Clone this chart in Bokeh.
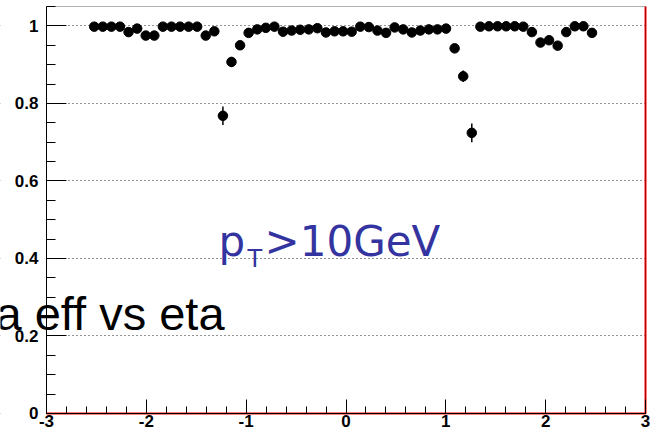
from bokeh.plotting import figure
from bokeh.models import (Range1d, SingleIntervalTicker, NumeralTickFormatter,
                          Label, ColumnDataSource, BoxAnnotation)
from bokeh.embed import file_html
from bokeh.resources import INLINE

# --- data ---
eta = [-2.522, -2.436, -2.350, -2.264, -2.178, -2.092, -2.006, -1.920, -1.834, -1.748,
       -1.662, -1.577, -1.491, -1.405, -1.319, -1.233, -1.147, -1.061, -0.975, -0.889,
       -0.803, -0.717, -0.631, -0.545, -0.459, -0.373, -0.287, -0.201, -0.115, -0.029,
       0.057, 0.143, 0.229, 0.315, 0.401, 0.487, 0.573, 0.659, 0.745, 0.830,
       0.916, 1.002, 1.088, 1.174, 1.260, 1.346, 1.432, 1.518, 1.604, 1.690,
       1.776, 1.862, 1.948, 2.034, 2.120, 2.206, 2.292, 2.378, 2.464]
eff = [0.998, 0.998, 0.998, 0.998, 0.984, 0.993, 0.975, 0.975, 0.998, 0.998,
       0.998, 0.998, 0.998, 0.975, 0.986, 0.768, 0.907, 0.950, 0.982, 0.991,
       0.995, 0.998, 0.985, 0.988, 0.990, 0.991, 0.994, 0.983, 0.986, 0.986,
       0.985, 0.998, 0.997, 0.988, 0.982, 0.996, 0.991, 0.983, 0.988, 0.991,
       0.991, 0.993, 0.942, 0.870, 0.724, 0.998, 0.999, 0.999, 0.999, 0.999,
       0.998, 0.984, 0.957, 0.963, 0.949, 0.984, 0.999, 0.999, 0.982]
err = [0.003, 0.003, 0.003, 0.003, 0.004, 0.004, 0.005, 0.005, 0.003, 0.003,
       0.003, 0.003, 0.003, 0.005, 0.005, 0.024, 0.013, 0.008, 0.004, 0.004,
       0.003, 0.003, 0.004, 0.004, 0.004, 0.004, 0.004, 0.004, 0.004, 0.004,
       0.004, 0.003, 0.003, 0.004, 0.004, 0.003, 0.004, 0.004, 0.004, 0.004,
       0.004, 0.004, 0.010, 0.015, 0.024, 0.003, 0.003, 0.003, 0.003, 0.003,
       0.003, 0.004, 0.007, 0.007, 0.008, 0.004, 0.003, 0.003, 0.004]
half_bin = 0.043

x_lo, x_hi = -3, 3
y_lo, y_hi = 0, 1.05

title_text = "a eff vs eta"
cut_main = "p"
cut_sub = "T"
cut_rest = ">10GeV"

src = ColumnDataSource(dict(
    eta=eta, eff=eff,
    lo=[v - e for v, e in zip(eff, err)],
    hi=[v + e for v, e in zip(eff, err)],
    xl=[x - half_bin for x in eta],
    xr=[x + half_bin for x in eta],
))

# the frame fills the whole canvas; axes are drawn at fixed locations inside it
p = figure(width=653, height=431, output_backend="svg", toolbar_location=None,
           x_range=Range1d(-3.4608, 3.0801), y_range=Range1d(-0.04644, 1.0655),
           min_border_left=0, min_border_right=0, min_border_top=0,
           min_border_bottom=0)
p.background_fill_color = "white"
p.border_fill_color = "white"
p.outline_line_color = None

p.xgrid.visible = False
p.ygrid.grid_line_color = "black"
p.ygrid.grid_line_dash = "1 3"
p.ygrid.grid_line_width = 1
p.ygrid.grid_line_alpha = 0.85

p.xaxis.ticker = SingleIntervalTicker(interval=1, num_minor_ticks=5)
p.yaxis.ticker = SingleIntervalTicker(interval=0.2, num_minor_ticks=4)
p.ygrid.ticker = SingleIntervalTicker(interval=0.2, num_minor_ticks=4)
p.xaxis.formatter = NumeralTickFormatter(format="0")
p.yaxis.formatter = NumeralTickFormatter(format="0.[0]")
p.xaxis.bounds = (x_lo, x_hi)
p.yaxis.bounds = (y_lo, y_hi)
p.xaxis.fixed_location = y_lo
p.yaxis.fixed_location = x_lo

for ax in (p.xaxis[0], p.yaxis[0]):
    ax.axis_line_color = "black"
    ax.major_tick_line_color = "black"
    ax.minor_tick_line_color = "black"
    ax.major_tick_out = 0
    ax.minor_tick_out = 0
    ax.major_label_text_font = "Liberation Sans"
    ax.major_label_text_font_style = "bold"
    ax.major_label_text_font_size = "17px"
    ax.major_label_text_color = "black"

p.yaxis.major_tick_in = 20
p.yaxis.minor_tick_in = 9
p.yaxis.major_label_standoff = 8
p.xaxis.major_tick_in = 14
p.xaxis.minor_tick_in = 7
p.xaxis.major_label_standoff = 2

# white covers outside the data area so the dotted grid stays inside it
p.add_layout(BoxAnnotation(right=x_lo, fill_color="white", fill_alpha=1.0,
                           line_color=None, level="underlay"))
p.add_layout(BoxAnnotation(left=x_hi, fill_color="white", fill_alpha=1.0,
                           line_color=None, level="underlay"))
p.add_layout(BoxAnnotation(top=y_lo, fill_color="white", fill_alpha=1.0,
                           line_color=None, level="underlay"))
# frame border around the data area
p.add_layout(BoxAnnotation(left=x_lo, right=x_hi, bottom=y_lo, top=y_hi,
                           fill_alpha=0, line_color="black", line_width=1))

p.segment(x0="eta", y0="lo", x1="eta", y1="hi", source=src, line_color="black", line_width=1.5)
p.segment(x0="xl", y0="eff", x1="xr", y1="eff", source=src, line_color="black", line_width=1)
p.scatter(x="eta", y="eff", source=src, marker="circle", size=9.5,
          fill_color="black", line_color="black")

# red histogram outline along the bottom and the right edge
p.line(x=[x_lo, x_hi, x_hi], y=[y_lo, y_lo, y_hi], line_color="red", line_width=2)

p.add_layout(Label(x=-3.511, y=0.258, text=title_text, text_font="Liberation Sans",
                   text_font_size="47px", text_color="black",
                   text_baseline="middle", text_align="left"))
blue = "#3434a0"
p.add_layout(Label(x=-1.277, y=0.444, text=cut_main, text_font="DejaVu Sans",
                   text_font_size="42px", text_color=blue,
                   text_baseline="middle", text_align="left"))
p.add_layout(Label(x=-1.277, y=0.444, x_offset=29, y_offset=-18, text=cut_sub,
                   text_font="DejaVu Sans", text_font_size="24px", text_color=blue,
                   text_baseline="middle", text_align="left"))
p.add_layout(Label(x=-1.277, y=0.444, x_offset=46, text=cut_rest,
                   text_font="DejaVu Sans", text_font_size="42px", text_color=blue,
                   text_baseline="middle", text_align="left"))

open("out.html", "w").write(file_html(p, INLINE))
